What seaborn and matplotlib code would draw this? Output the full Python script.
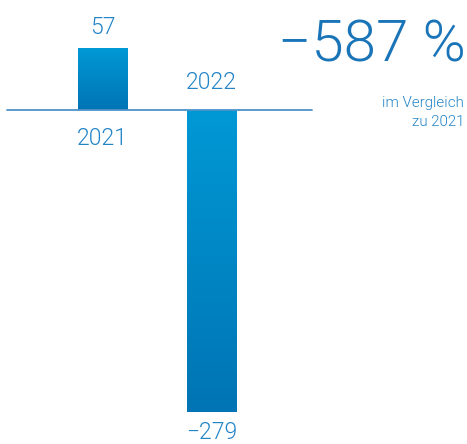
import numpy as np
import pandas as pd
import matplotlib
matplotlib.use("Agg")
import matplotlib.pyplot as plt
from matplotlib.colors import LinearSegmentedColormap
import seaborn as sns

# data
years = ["2021", "2022"]
values = [57, -279]
change_label = "\u2212587 %"
change_note = "im Vergleich\nzu 2021"

df = pd.DataFrame({"year": years, "value": values})

sns.set_style("white")
plt.rcParams["font.family"] = ["Roboto", "DejaVu Sans"]

fig = plt.figure(figsize=(4.67, 4.44), dpi=100)
ax = fig.add_axes([0, 0, 1, 1])

sns.barplot(data=df, x="year", y="value", color="#0088c8", width=0.45,
            saturation=1, ax=ax)

# gradient fill inside each bar (light on top, darker at bottom)
cmap = LinearSegmentedColormap.from_list("blu", ["#0099d5", "#0074b4"])
grad = np.linspace(0, 1, 256).reshape(-1, 1)
for p in ax.patches:
    x0, y0 = p.get_x(), p.get_y()
    w, h = p.get_width(), p.get_height()
    top, bot = max(y0, y0 + h), min(y0, y0 + h)
    im = ax.imshow(grad, cmap=cmap, aspect="auto", origin="upper",
                   extent=[x0, x0 + w, bot, top], zorder=p.get_zorder() + 0.1)
    im.set_clip_path(p)

ax.set_xlim(-0.940, 3.344)
ax.set_ylim(-308.4, 101.2)
ax.axis("off")

# baseline
ax.axhline(0, xmin=0.015, xmax=0.668, color="#4d93c9", lw=1.3, zorder=5)

lab_col = "#2384c6"
fs = 16.5
W = 300  # Roboto Light
for i, (yr, v) in enumerate(zip(years, values)):
    vtxt = str(v).replace("-", "\u2212")
    if v >= 0:
        ax.annotate(vtxt, (i, v), xytext=(0, 15), textcoords="offset points",
                    ha="center", va="center", fontsize=fs, color=lab_col,
                    fontweight=W)
        ax.annotate(yr, (i, 0), xytext=(0, -20.5), textcoords="offset points",
                    ha="center", va="center", fontsize=fs, color=lab_col,
                    fontweight=W)
    else:
        ax.annotate(vtxt, (i, v), xytext=(0, -14.5), textcoords="offset points",
                    ha="center", va="center", fontsize=fs, color=lab_col,
                    fontweight=W)
        ax.annotate(yr, (i, 0), xytext=(0, 19.5), textcoords="offset points",
                    ha="center", va="center", fontsize=fs, color=lab_col,
                    fontweight=W)

fig.text(465.5 / 467, 1 - 46 / 444, change_label, ha="right", va="center",
         fontsize=42, color="#1a74b8", fontweight=W)
fig.text(464 / 467, 1 - 112.5 / 444, change_note, ha="right", va="center",
         fontsize=10.9, color=lab_col, fontweight=W, linespacing=1.4,
         multialignment="right")

fig.savefig("out.png", dpi=100)
